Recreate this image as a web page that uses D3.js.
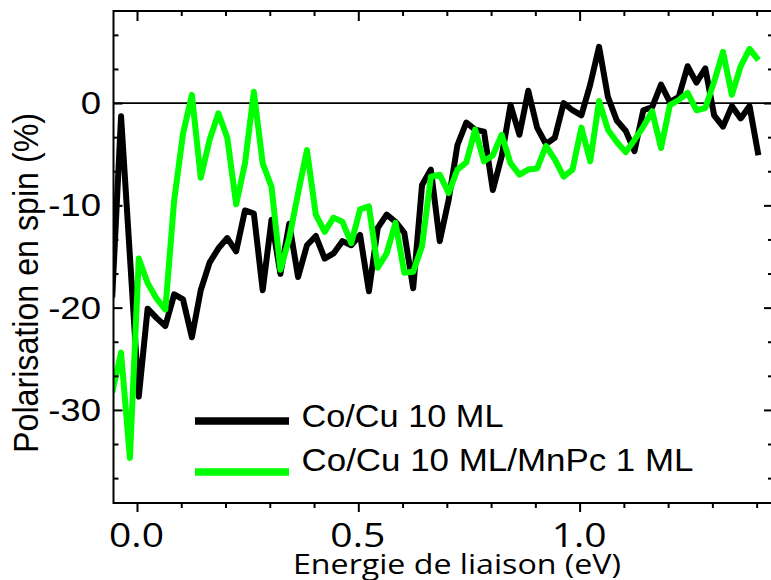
<!DOCTYPE html>
<html>
<head>
<meta charset="utf-8">
<script src="https://cdn.jsdelivr.net/npm/d3@7/dist/d3.min.js"></script>
<style>
  html, body { margin: 0; padding: 0; background: #fff; }
  svg { display: block; }
</style>
</head>
<body>
<svg id="chart" width="771" height="580"></svg>
<script>
// ---- Data ----
const energies = [
  -0.056, -0.036, -0.016, 0.004, 0.024, 0.044, 0.064, 0.084, 0.104, 0.124,
  0.144, 0.164, 0.184, 0.204, 0.224, 0.244, 0.264, 0.284, 0.304, 0.324,
  0.344, 0.364, 0.384, 0.404, 0.424, 0.444, 0.464, 0.484, 0.504, 0.524,
  0.544, 0.564, 0.584, 0.604, 0.624, 0.644, 0.664, 0.684, 0.704, 0.724,
  0.744, 0.764, 0.784, 0.804, 0.824, 0.844, 0.864, 0.884, 0.904, 0.924,
  0.944, 0.964, 0.984, 1.004, 1.024, 1.044, 1.064, 1.084, 1.104, 1.124,
  1.144, 1.164, 1.184, 1.204, 1.224, 1.244, 1.264, 1.284, 1.304, 1.324,
  1.344, 1.364, 1.384, 1.404
];
const coCu = [
  -19.0, -1.3, -15.0, -28.7, -20.1, -21.0, -21.8, -18.7, -19.2, -22.9,
  -18.3, -15.6, -14.2, -13.2, -14.5, -10.5, -10.8, -18.3, -11.4, -16.7,
  -11.8, -17.0, -13.9, -13.0, -15.2, -14.7, -13.5, -13.9, -12.9, -18.4,
  -12.2, -10.9, -11.6, -12.7, -18.1, -8.0, -6.5, -13.5, -9.5, -4.1,
  -1.9, -2.6, -2.8, -8.5, -5.2, -0.2, -3.1, 1.2, -2.4, -4.0,
  -3.4, 0.0, -0.7, -1.2, 1.8, 5.5, 0.6, -1.7, -2.7, -4.7,
  -0.7, -0.4, 1.8, 0.1, 0.6, 3.6, 2.0, 3.4, -1.2, -2.3,
  -0.3, -1.5, -0.3, -5.1
];
const coCuMnPc = [
  -28.3, -24.4, -34.7, -15.2, -17.6, -19.1, -20.2, -9.5, -3.0, 0.8,
  -7.3, -3.6, -1.0, -3.4, -9.9, -5.9, 1.1, -5.9, -8.2, -16.3,
  -13.2, -8.8, -4.6, -10.9, -12.6, -11.2, -11.6, -13.7, -10.4, -10.1,
  -16.1, -14.7, -11.7, -16.6, -16.5, -14.0, -7.2, -7.0, -8.8, -6.5,
  -5.8, -2.6, -5.7, -5.1, -3.1, -5.9, -7.0, -6.5, -6.4, -4.2,
  -5.5, -7.2, -6.5, -2.4, -5.7, 0.2, -2.6, -3.8, -4.8, -3.6,
  -2.3, -0.8, -4.4, -0.2, 0.3, 1.0, -0.7, -0.5, 2.1, 5.0,
  0.8, 3.6, 5.3, 4.2
];
const seriesNames = ["Co/Cu 10 ML", "Co/Cu 10 ML/MnPc 1 ML"];
const seriesColors = ["#000000", "#00ff00"];
const xMajorTicks = [0.0, 0.5, 1.0];
const xTickLabels = ["0.0", "0.5", "1.0"];
const xMinorTicks = [0.1, 0.2, 0.3, 0.4, 0.6, 0.7, 0.8, 0.9, 1.1, 1.2, 1.3, 1.4];
const yMajorTicks = [0, -10, -20, -30];
const yTickLabels = ["0", "-10", "-20", "-30"];
const yMinorTicks = [6.667, 3.333, -3.333, -6.667, -13.333, -16.667, -23.333, -26.667, -33.333, -36.667];
const xTitle = "Energie de liaison (eV)";
const yTitle = "Polarisation en spin (%)";

// ---- Layout ----
const L = 113.5, R = 773, T = 11, B = 503;
const svg = d3.select("#chart");

const x = d3.scaleLinear().domain([0, 1]).range([137, 579.6]);
x.domain([x.invert(L), x.invert(R)]).range([L, R]);
const y = d3.scaleLinear().domain([-39.1, 9.0]).range([B, T]);

svg.append("defs").append("clipPath").attr("id", "plotclip")
  .append("rect").attr("x", L).attr("y", T).attr("width", R - L).attr("height", B - T);

// zero line
svg.append("line")
  .attr("x1", L).attr("x2", R).attr("y1", y(0)).attr("y2", y(0))
  .attr("stroke", "#000").attr("stroke-width", 1.8);

// data lines (green drawn over black)
const lineGen = d3.line().x((d, i) => x(energies[i])).y(d => y(d));
const plot = svg.append("g").attr("clip-path", "url(#plotclip)");
[coCu, coCuMnPc].forEach((s, i) => {
  plot.append("path")
    .attr("d", lineGen(s))
    .attr("fill", "none")
    .attr("stroke", seriesColors[i])
    .attr("stroke-width", 6)
    .attr("stroke-linejoin", "round")
    .attr("stroke-linecap", "butt");
});

// axes (ticks)
function styleAxis(g) {
  g.select(".domain").remove();
  g.selectAll(".tick line").attr("stroke", "#000").attr("stroke-width", 2);
  g.selectAll(".tick text").remove();
}
svg.append("g").attr("transform", `translate(0,${B})`)
  .call(d3.axisBottom(x).tickValues(xMajorTicks).tickSize(9).tickSizeOuter(0).tickFormat("")).call(styleAxis);
svg.append("g").attr("transform", `translate(0,${B})`)
  .call(d3.axisBottom(x).tickValues(xMinorTicks).tickSize(5).tickSizeOuter(0).tickFormat("")).call(styleAxis);
svg.append("g").attr("transform", `translate(0,${T})`)
  .call(d3.axisBottom(x).tickValues(xMajorTicks).tickSize(10).tickSizeOuter(0).tickFormat("")).call(styleAxis);
svg.append("g").attr("transform", `translate(0,${T})`)
  .call(d3.axisBottom(x).tickValues(xMinorTicks).tickSize(5).tickSizeOuter(0).tickFormat("")).call(styleAxis);
svg.append("g").attr("transform", `translate(${L},0)`)
  .call(d3.axisRight(y).tickValues(yMajorTicks).tickSize(9).tickSizeOuter(0).tickFormat("")).call(styleAxis);
svg.append("g").attr("transform", `translate(${L},0)`)
  .call(d3.axisRight(y).tickValues(yMinorTicks).tickSize(5).tickSizeOuter(0).tickFormat("")).call(styleAxis);
svg.append("g").attr("transform", `translate(${R},0)`)
  .call(d3.axisLeft(y).tickValues(yMajorTicks).tickSize(9).tickSizeOuter(0).tickFormat("")).call(styleAxis);
svg.append("g").attr("transform", `translate(${R},0)`)
  .call(d3.axisLeft(y).tickValues(yMinorTicks).tickSize(5).tickSizeOuter(0).tickFormat("")).call(styleAxis);

// frame
svg.append("rect").attr("x", L).attr("y", T).attr("width", R - L).attr("height", B - T)
  .attr("fill", "none").attr("stroke", "#000").attr("stroke-width", 2);

// tick labels
const yLab = svg.append("g")
  .attr("font-family", "'Liberation Sans', Arial, sans-serif")
  .attr("font-size", 31).attr("fill", "#000");
yMajorTicks.forEach((v, i) => {
  yLab.append("text")
    .attr("transform", `translate(101,${y(v) + 11}) scale(1.18,1)`)
    .attr("text-anchor", "end")
    .text(yTickLabels[i]);
});
const xLab = svg.append("g")
  .attr("font-family", "'Open Sans', sans-serif")
  .attr("font-size", 32).attr("fill", "#000");
xMajorTicks.forEach((v, i) => {
  xLab.append("text")
    .attr("transform", `translate(${x(v) - 0.5},547) scale(1.22,1)`)
    .attr("text-anchor", "middle")
    .text(xTickLabels[i]);
});

// axis titles
svg.append("text")
  .attr("x", 293).attr("y", 574)
  .attr("font-family", "'Open Sans', sans-serif")
  .attr("font-size", 28)
  .attr("textLength", 328).attr("lengthAdjust", "spacingAndGlyphs")
  .text(xTitle);
svg.append("text")
  .attr("transform", "translate(38,283) rotate(-90) scale(1,1.13)")
  .attr("text-anchor", "middle")
  .attr("font-family", "'Liberation Sans', Arial, sans-serif")
  .attr("font-size", 31)
  .attr("textLength", 340).attr("lengthAdjust", "spacingAndGlyphs")
  .text(yTitle);

// legend
const legY = [421, 472];
const txtY = [427, 471];
const txtLen = [202, 392];
seriesNames.forEach((n, i) => {
  svg.append("line").attr("x1", 195).attr("x2", 289).attr("y1", legY[i]).attr("y2", legY[i])
    .attr("stroke", seriesColors[i]).attr("stroke-width", 7.5);
  svg.append("text").attr("x", 301.5).attr("y", txtY[i])
    .attr("font-family", "'Liberation Sans', Arial, sans-serif")
    .attr("font-size", 31)
    .attr("textLength", txtLen[i]).attr("lengthAdjust", "spacingAndGlyphs")
    .text(n);
});
</script>
</body>
</html>
